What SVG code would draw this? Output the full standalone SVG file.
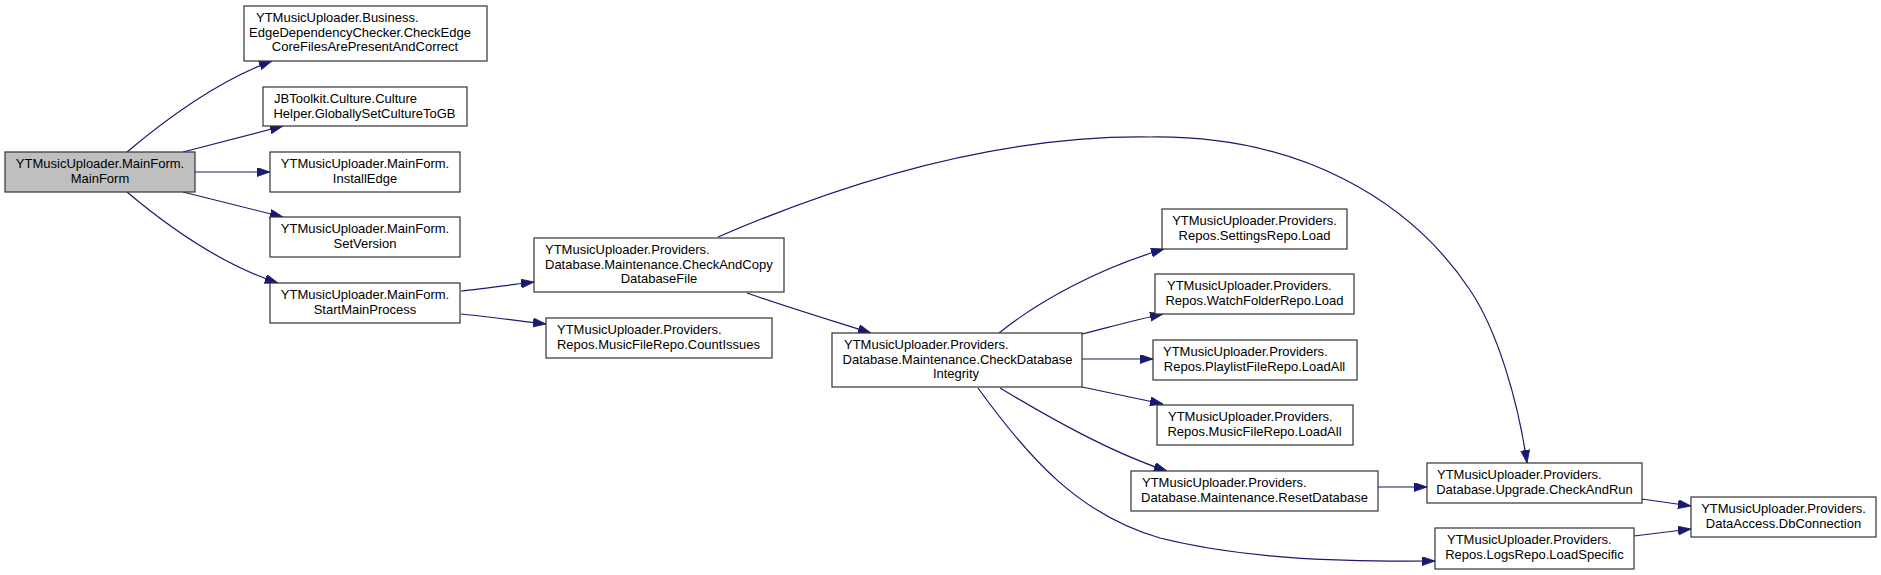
<svg xmlns="http://www.w3.org/2000/svg" width="1881" height="575" viewBox="0 0 1881 575">
<style>
.node rect{fill:#ffffff;stroke:#333333;stroke-width:1.2}
.node.root rect{fill:#bfbfbf}
.node text{font-family:"Liberation Sans",Arial,Helvetica,sans-serif;font-size:13px;fill:#000000}
.m{text-anchor:middle}
.s{text-anchor:start}
.edges path{fill:none;stroke:#191970;stroke-width:1.2;marker-end:url(#arr)}
</style>
<defs>
<marker id="arr" markerUnits="userSpaceOnUse" markerWidth="14" markerHeight="10" refX="13" refY="4.5" orient="auto">
<path d="M0,0 L13,4.5 L0,9 z" fill="#191970" stroke="#191970" stroke-width="0.8"/>
</marker>
</defs>
<rect width="1881" height="575" fill="#ffffff"/>
<g id="connectors" class="edges">
<path d="M127,152 C165,120 220,80 272,61"/>
<path d="M183,152 L283,126"/>
<path d="M195,172 L270,172"/>
<path d="M183,192 L283,217"/>
<path d="M127,192 C165,224 220,264 278,283"/>
<path d="M461,291 C480,289 510,285 534,282"/>
<path d="M461,314 C490,317 520,321 546,324"/>
<path d="M747,293 C790,308 830,320 871,333"/>
<path d="M718,237 C850,180 1000,135 1150,137 C1300,135 1410,200 1470,290 C1497,330 1518,400 1527,463"/>
<path d="M999,333 C1040,300 1100,268 1164,249"/>
<path d="M1082,334 C1110,327 1135,320 1163,314"/>
<path d="M1082,359 L1153,359"/>
<path d="M1082,387 L1163,404"/>
<path d="M1000,388 C1050,418 1110,452 1167,471"/>
<path d="M978,388 C1030,460 1080,515 1160,538 C1240,558 1330,562 1435,561"/>
<path d="M1378,487 L1427,487"/>
<path d="M1642,499 L1691,506"/>
<path d="M1634,536 L1691,529"/>
</g>
<g id="n_mainform" class="node root">
<rect x="5" y="152" width="190" height="40"/>
<text class="m" x="100" y="168">YTMusicUploader.MainForm.</text>
<text class="m" x="100" y="183">MainForm</text>
</g>
<g id="n_checkedge" class="node">
<rect x="244" y="6" width="243" height="55"/>
<text class="s" x="256" y="22">YTMusicUploader.Business.</text>
<text class="m" x="360" y="36.5">EdgeDependencyChecker.CheckEdge</text>
<text class="m" x="365" y="51">CoreFilesArePresentAndCorrect</text>
</g>
<g id="n_culture" class="node">
<rect x="263" y="87" width="204" height="39"/>
<text class="s" x="274" y="103">JBToolkit.Culture.Culture</text>
<text class="m" x="364.5" y="118">Helper.GloballySetCultureToGB</text>
</g>
<g id="n_installedge" class="node">
<rect x="270" y="152" width="190" height="40"/>
<text class="m" x="365" y="168">YTMusicUploader.MainForm.</text>
<text class="m" x="365" y="183">InstallEdge</text>
</g>
<g id="n_setversion" class="node">
<rect x="270" y="217" width="190" height="40"/>
<text class="m" x="365" y="233">YTMusicUploader.MainForm.</text>
<text class="m" x="365" y="248">SetVersion</text>
</g>
<g id="n_startmain" class="node">
<rect x="270" y="283" width="190" height="40"/>
<text class="m" x="365" y="299">YTMusicUploader.MainForm.</text>
<text class="m" x="365" y="314">StartMainProcess</text>
</g>
<g id="n_checkandcopy" class="node">
<rect x="534" y="238" width="250" height="54"/>
<text class="s" x="545" y="254">YTMusicUploader.Providers.</text>
<text class="s" x="545" y="268.5">Database.Maintenance.CheckAndCopy</text>
<text class="m" x="659" y="283">DatabaseFile</text>
</g>
<g id="n_countissues" class="node">
<rect x="546" y="318" width="226" height="40"/>
<text class="s" x="557" y="334">YTMusicUploader.Providers.</text>
<text class="m" x="658.5" y="349">Repos.MusicFileRepo.CountIssues</text>
</g>
<g id="n_checkdbintegrity" class="node">
<rect x="832" y="333" width="250" height="54"/>
<text class="s" x="844" y="349">YTMusicUploader.Providers.</text>
<text class="m" x="957.5" y="363.5">Database.Maintenance.CheckDatabase</text>
<text class="m" x="956" y="378">Integrity</text>
</g>
<g id="n_settingsrepo" class="node">
<rect x="1162" y="209" width="185" height="40"/>
<text class="m" x="1254.5" y="225">YTMusicUploader.Providers.</text>
<text class="m" x="1254.5" y="240">Repos.SettingsRepo.Load</text>
</g>
<g id="n_watchfolder" class="node">
<rect x="1155" y="274" width="199" height="40"/>
<text class="s" x="1167" y="290">YTMusicUploader.Providers.</text>
<text class="m" x="1254.5" y="305">Repos.WatchFolderRepo.Load</text>
</g>
<g id="n_playlist" class="node">
<rect x="1153" y="340" width="204" height="40"/>
<text class="s" x="1163" y="356">YTMusicUploader.Providers.</text>
<text class="m" x="1254.5" y="371">Repos.PlaylistFileRepo.LoadAll</text>
</g>
<g id="n_musicfile" class="node">
<rect x="1157" y="405" width="196" height="40"/>
<text class="s" x="1168" y="421">YTMusicUploader.Providers.</text>
<text class="m" x="1254.5" y="436">Repos.MusicFileRepo.LoadAll</text>
</g>
<g id="n_resetdb" class="node">
<rect x="1131" y="471" width="247" height="40"/>
<text class="s" x="1142" y="487">YTMusicUploader.Providers.</text>
<text class="m" x="1254.5" y="502">Database.Maintenance.ResetDatabase</text>
</g>
<g id="n_checkandrun" class="node">
<rect x="1427" y="463" width="215" height="40"/>
<text class="s" x="1437" y="479">YTMusicUploader.Providers.</text>
<text class="m" x="1534.5" y="494">Database.Upgrade.CheckAndRun</text>
</g>
<g id="n_logsrepo" class="node">
<rect x="1435" y="528" width="199" height="41"/>
<text class="s" x="1447" y="544">YTMusicUploader.Providers.</text>
<text class="m" x="1534.5" y="559">Repos.LogsRepo.LoadSpecific</text>
</g>
<g id="n_dbconnection" class="node">
<rect x="1691" y="497" width="185" height="40"/>
<text class="m" x="1783.5" y="513">YTMusicUploader.Providers.</text>
<text class="m" x="1783.5" y="528">DataAccess.DbConnection</text>
</g>
</svg>
